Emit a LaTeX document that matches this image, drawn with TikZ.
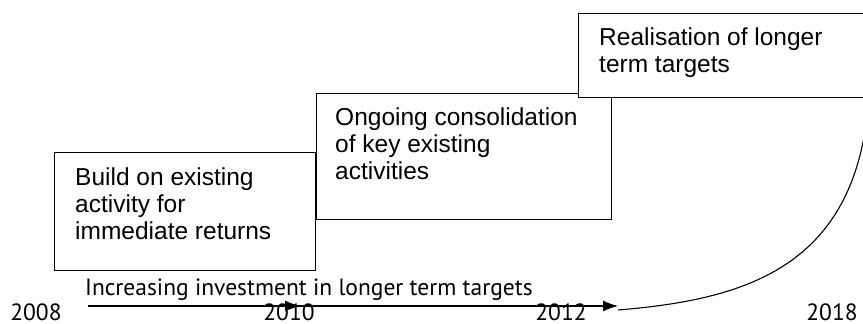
\documentclass[tikz,border=0pt]{standalone}
\usepackage{fontspec}
\setmainfont{Liberation Sans}
\newfontfamily\gillish{PT Sans}
\usetikzlibrary{shapes}
\usetikzlibrary{arrows,arrows.meta}
\tikzset{
	boite/.style = {rectangle, draw=black, fill=white, line width=1.2pt,
		inner sep=0pt, anchor=north west},% cadre d'une etape
	etiq/.style = {align=left, inner sep=0pt, anchor=north west,
		font=\fontsize{24.5}{27}\selectfont},% texte d'une etape
	annee/.style = {inner sep=0pt, anchor=base,
		font=\gillish\fontsize{23.5}{23.5}\selectfont},% annee sur l'axe
	fleche/.style = {-{Latex[length=15pt,width=11pt]}, line width=1.2pt}% axe du temps
}
\begin{document}
\begin{tikzpicture}[x=1pt,y=-1pt]
			\useasboundingbox (0,0) rectangle (863,324);
			% les trois etapes
			\node [boite, minimum width=261pt, minimum height=118pt] (b1) at (54,152) {};
			\node [boite, minimum width=295pt, minimum height=126pt] (b2) at (316,93) {};
			\node [boite, minimum width=292pt, minimum height=84pt] (b3) at (578,13) {};
			\node [etiq] (t1) at ([shift={(21,16)}]b1.north west) {Build on existing\\activity for\\immediate returns};
			\node [etiq] (t2) at ([shift={(19,15)}]b2.north west) {Ongoing consolidation\\of key existing\\activities};
			\node [etiq] (t3) at ([shift={(21,15)}]b3.north west) {Realisation of longer\\term targets};
			% axe du temps
			\coordinate (d0) at (88,306);
			\coordinate (d1) at (300,306);
			\coordinate (d2) at (225,306);
			\coordinate (d3) at (618,306);
			\coordinate (c0) at (618,310);
			\coordinate (c1) at (866,125);
			\draw [fleche] (d0) -- (d1);
			\draw [fleche] (d2) -- (d3);
			\draw [line width=1.1pt] (c0) .. controls (740,300) and (845,270) .. (c1);
			\node [annee, anchor=base west] (inv) at (85,295) {Increasing investment in longer term targets};
			\node [annee] (a08) at (36,320) {2008};
			\node [annee] (a10) at (289,320) {2010};
			\node [annee] (a12) at (561,320) {2012};
			\node [annee] (a18) at (832,320) {2018};
\end{tikzpicture}
\end{document}
